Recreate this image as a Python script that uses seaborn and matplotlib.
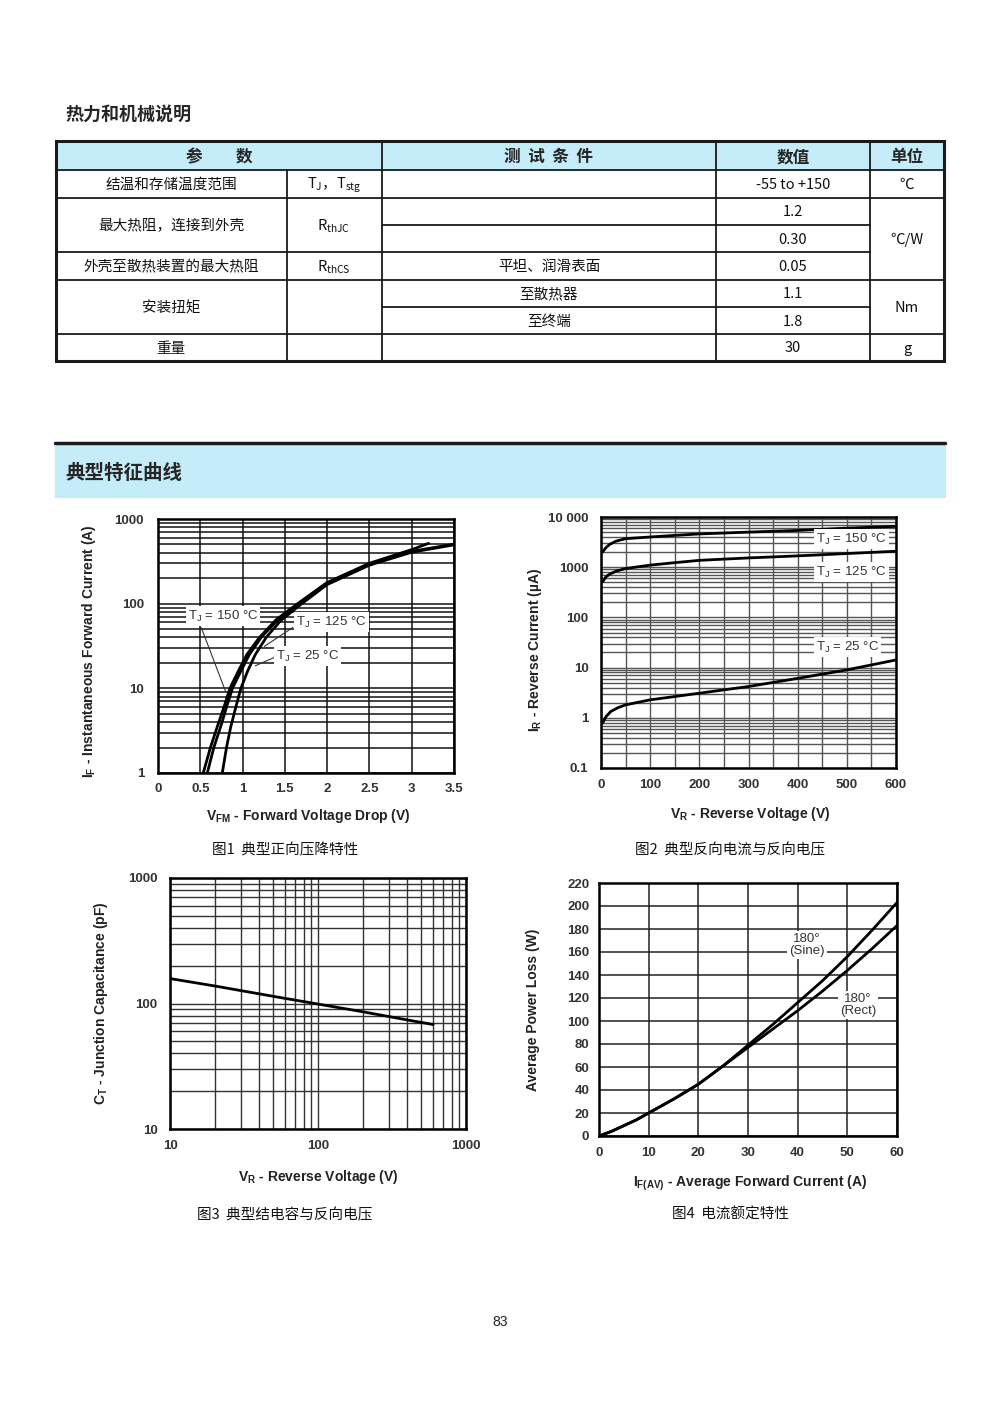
import numpy as np
import pandas as pd
import seaborn as sns
from matplotlib import pyplot as plt
from matplotlib.patches import Rectangle
from matplotlib.ticker import FixedLocator, FixedFormatter, NullFormatter, LogLocator, MultipleLocator

sns.set_theme(style='white')
plt.rcParams['font.family'] = ['Liberation Sans', 'Noto Sans CJK SC', 'DejaVu Sans']
plt.rcParams['mathtext.fontset'] = 'custom'
plt.rcParams['mathtext.rm'] = 'Liberation Sans'
plt.rcParams['mathtext.bf'] = 'Liberation Sans:bold'
plt.rcParams['mathtext.it'] = 'Liberation Sans:italic'
plt.rcParams['mathtext.default'] = 'regular'
CJK = ['Noto Sans CJK SC', 'DejaVu Sans']

# ---- table data ----
tbl_title = '热力和机械说明'
header = ['参　　数', '测  试  条  件', '数值', '单位']
param_names = ['结温和存储温度范围', '最大热阻，连接到外壳', '外壳至散热装置的最大热阻', '安装扭矩', '重量']
symbols = ['T$_J$，T$_{stg}$', 'R$_{thJC}$', 'R$_{thCS}$', '', '']
conditions = ['', '', '', '平坦、润滑表面', '至散热器', '至终端', '']
values = ['-55 to +150', '1.2', '0.30', '0.05', '1.1', '1.8', '30']
units = ['℃', '℃/W', 'Nm', 'g']
section_title = '典型特征曲线'

# ---- fig1: forward voltage drop ----
vf_150 = [0.535, 0.62, 0.70, 0.78, 0.85, 0.95, 1.05, 1.2, 1.4, 1.68, 2.0, 2.5, 3.0, 3.2]
if_150 = [1, 2, 3.5, 6, 10, 16, 25, 40, 65, 105, 178, 300, 435, 516]
vf_125 = [0.583, 0.66, 0.74, 0.81, 0.88, 0.98, 1.08, 1.22, 1.42, 1.7, 2.0, 2.5, 3.0, 3.5]
if_125 = [1, 2, 3.5, 6, 10, 16, 25, 40, 65, 103, 172, 290, 415, 505]
vf_25 = [0.76, 0.81, 0.86, 0.92, 0.98, 1.06, 1.15, 1.28, 1.45, 1.7, 2.0, 2.5, 3.0, 3.5]
if_25 = [1, 2, 3.5, 6, 10, 16, 25, 40, 63, 100, 168, 285, 405, 495]
vf_ticks = [0, 0.5, 1, 1.5, 2, 2.5, 3, 3.5]
vf_labels = ['0', '0.5', '1', '1.5', '2', '2.5', '3', '3.5']

# ---- fig2: reverse current ----
vr_150 = [3, 10, 17, 30, 50, 100, 150, 200, 300, 400, 500, 600]
ir_150 = [2000, 2450, 2820, 3290, 3700, 4000, 4300, 4600, 5000, 5400, 6000, 6500]
vr_125 = [3, 10, 17, 30, 50, 100, 150, 200, 300, 400, 500, 600]
ir_125 = [510, 640, 720, 830, 940, 1100, 1230, 1370, 1530, 1680, 1870, 2080]
vr_25 = [3, 10, 20, 35, 50, 100, 150, 200, 300, 400, 500, 600]
ir_25 = [0.78, 1.05, 1.34, 1.6, 1.81, 2.28, 2.65, 3.09, 4.2, 6.1, 9.0, 14.2]
ir_ticks = [0.1, 1, 10, 100, 1000, 10000]
ir_labels = ['0.1', '1', '10', '100', '1000', '10 000']

# ---- fig3: junction capacitance ----
vr_cap = [10, 20, 50, 100, 200, 400, 600]
c_cap = [158, 138, 114, 99, 86, 74, 68]

# ---- fig4: power loss ----
iav = [0, 2.5, 5, 7.5, 10, 15, 20, 25, 30, 35, 40, 45, 50, 55, 60]
p_sine = [0, 4, 9, 14, 20, 32, 45, 61, 79, 97, 116, 135, 156, 179, 203]
p_rect = [0, 4, 9, 14, 20, 32, 45, 61, 77, 93, 109, 126, 144, 163, 183]

fig = plt.figure(figsize=(10, 14.14), dpi=100)
page = fig.add_axes([0, 0, 1, 1], zorder=-1)
page.set_xlim(0, 1000)
page.set_ylim(1414, 0)
page.axis('off')

blue = '#c4ecf9'
page.text(65, 114, tbl_title, fontsize=13, fontweight='bold', family=CJK, va='center')

# table
xs = [56, 287, 382, 716, 870, 944]
ys = [141, 170, 198, 225, 252, 280, 307, 334, 361]
page.add_patch(Rectangle((xs[0], ys[0]), xs[-1] - xs[0], ys[1] - ys[0], color=blue, zorder=0))
lw = 1.3
for y in [170, 198, 280, 334]:
    page.plot([56, 944], [y, y], color='k', lw=lw)
for y in [225, 307]:
    page.plot([382, 870], [y, y], color='k', lw=lw)
page.plot([56, 870], [252, 252], color='k', lw=lw)
page.plot([287, 287], [170, 361], color='k', lw=lw)
for x in [382, 716, 870]:
    page.plot([x, x], [141, 361], color='k', lw=lw)
page.add_patch(Rectangle((56, 141), 888, 220, fill=False, ec='k', lw=2.2, zorder=3))

hdr_x = [(56 + 382) / 2, (382 + 716) / 2, (716 + 870) / 2, (870 + 944) / 2]
for hx, h in zip(hdr_x, header):
    page.text(hx, 157, h, fontsize=12, fontweight='bold', family=CJK, ha='center', va='center')

row_mid = [(ys[i] + ys[i + 1]) / 2 for i in range(1, len(ys) - 1)]
param_spans = [(0, 1), (1, 3), (3, 4), (4, 6), (6, 7)]
for (a, b), name, sym in zip(param_spans, param_names, symbols):
    yc = (ys[a + 1] + ys[b + 1]) / 2 + 1
    page.text(171, yc, name, fontsize=10.5, family=CJK, ha='center', va='center', color='#111')
    page.text(334, yc, sym, fontsize=10.5, family=CJK, ha='center', va='center', color='#111')
for i, (c, v) in enumerate(zip(conditions, values)):
    page.text(549, row_mid[i] + 1, c, fontsize=10.5, family=CJK, ha='center', va='center', color='#111')
    page.text(793, row_mid[i] + 1, v, fontsize=10.5, family=CJK, ha='center', va='center', color='#111')
unit_spans = [(0, 1), (1, 4), (4, 6), (6, 7)]
for (a, b), u in zip(unit_spans, units):
    page.text(907, (ys[a + 1] + ys[b + 1]) / 2 + 1, u, fontsize=10.5, family=CJK, ha='center', va='center', color='#111')

# section bar
page.plot([55, 945], [443, 443], color='k', lw=2.5)
page.add_patch(Rectangle((55, 445), 890, 52, color=blue, zorder=0))
page.text(65, 473, section_title, fontsize=14, fontweight='bold', family=CJK, va='center')

captions = ['图1  典型正向压降特性', '图2  典型反向电流与反向电压', '图3  典型结电容与反向电压', '图4  电流额定特性']
for (cx, cy), cap in zip([(285, 850), (730, 850), (285, 1215), (730, 1215)], captions):
    page.text(cx, cy, cap, fontsize=10.5, family=CJK, ha='center', va='center', color='#111')
page.text(500, 1322, '83', fontsize=10, ha='center', va='center', color='#222')

lab_kw = dict(fontsize=10, fontweight='bold', color='#222')
lbl_kw = dict(fontsize=9.5, color='#333', bbox=dict(facecolor='white', edgecolor='none', pad=1.5))


def style(ax, gcol, glw=1.0):
    ax.grid(True, which='both', color=gcol, lw=glw)
    ax.tick_params(which='both', length=0)
    for s in ax.spines.values():
        s.set_visible(True)
        s.set_color('black')
        s.set_linewidth(1.8)
    for t in ax.get_xticklabels() + ax.get_yticklabels():
        t.set_fontsize(9.5)
        t.set_fontweight('bold')
        t.set_color('#333')


def curve(ax, x, y):
    sns.lineplot(x=x, y=y, ax=ax, color='black', lw=2.0, sort=False, estimator=None)


# ---- chart 1 ----
ax1 = fig.add_axes([0.158, 1 - 773 / 1414, 0.296, 254 / 1414])
ax1.set_yscale('log')
curve(ax1, vf_150, if_150)
curve(ax1, vf_125, if_125)
curve(ax1, vf_25, if_25)
ax1.set_xlim(0, 3.5)
ax1.set_ylim(1, 1000)
ax1.xaxis.set_major_locator(FixedLocator(vf_ticks))
ax1.xaxis.set_major_formatter(FixedFormatter(vf_labels))
ax1.yaxis.set_major_locator(FixedLocator([1, 10, 100, 1000]))
ax1.yaxis.set_major_formatter(FixedFormatter(['1', '10', '100', '1000']))
ax1.yaxis.set_minor_locator(LogLocator(subs=range(2, 10)))
ax1.yaxis.set_minor_formatter(NullFormatter())
ax1.tick_params(axis='y', pad=10)
ax1.tick_params(axis='x', pad=7)
style(ax1, '#111', 1.1)
ax1.set_xlabel(r'$\mathbf{V_{FM}}$ - Forward Voltage Drop (V)', **lab_kw)
ax1.set_ylabel(r'$\mathbf{I_F}$ - Instantaneous Forward Current (A)', **lab_kw)
ax1.xaxis.set_label_coords(0.507, -0.134)
ax1.yaxis.set_label_coords(-0.202, 0.48)
ax1.annotate('', xy=(0.816, 8.3), xytext=(0.50, 56), arrowprops=dict(arrowstyle='-', lw=0.8, color='#333'))
ax1.annotate('', xy=(1.23, 30), xytext=(1.62, 54.5), arrowprops=dict(arrowstyle='-', lw=0.8, color='#333'))
ax1.annotate('', xy=(1.12, 17.9), xytext=(1.41, 24), arrowprops=dict(arrowstyle='-', lw=0.8, color='#333'))
ax1.text(0.77, 71.5, 'T$_J$ = 150 °C', ha='center', va='center', **lbl_kw)
ax1.text(2.05, 60.7, 'T$_J$ = 125 °C', ha='center', va='center', **lbl_kw)
ax1.text(1.77, 24.1, 'T$_J$ = 25 °C', ha='center', va='center', **lbl_kw)

# ---- chart 2 ----
ax2 = fig.add_axes([0.601, 1 - 768 / 1414, 0.295, 251 / 1414])
ax2.set_yscale('log')
curve(ax2, vr_150, ir_150)
curve(ax2, vr_125, ir_125)
curve(ax2, vr_25, ir_25)
ax2.set_xlim(0, 600)
ax2.set_ylim(0.1, 10000)
ax2.xaxis.set_major_locator(MultipleLocator(100))
ax2.xaxis.set_minor_locator(MultipleLocator(50))
ax2.yaxis.set_major_locator(FixedLocator(ir_ticks))
ax2.yaxis.set_major_formatter(FixedFormatter(ir_labels))
ax2.yaxis.set_minor_locator(LogLocator(subs=range(2, 10)))
ax2.yaxis.set_minor_formatter(NullFormatter())
ax2.tick_params(axis='y', pad=9)
ax2.tick_params(axis='x', pad=8)
style(ax2, '#555', 1.0)
ax2.set_xlabel(r'$\mathbf{V_R}$ - Reverse Voltage (V)', **lab_kw)
ax2.set_ylabel(r'$\mathbf{I_R}$ - Reverse Current (µA)', **lab_kw)
ax2.xaxis.set_label_coords(0.505, -0.147)
ax2.yaxis.set_label_coords(-0.193, 0.47)
ax2.text(438, 3650, 'T$_J$ = 150 °C', ha='left', va='center', **lbl_kw)
ax2.text(438, 802, 'T$_J$ = 125 °C', ha='left', va='center', **lbl_kw)
ax2.text(438, 25.7, 'T$_J$ = 25 °C', ha='left', va='center', **lbl_kw)

# ---- chart 3 ----
ax3 = fig.add_axes([0.170, 1 - 1129 / 1414, 0.296, 251 / 1414])
ax3.set_xscale('log')
ax3.set_yscale('log')
curve(ax3, vr_cap, c_cap)
ax3.set_xlim(10, 1000)
ax3.set_ylim(10, 1000)
for axis in [ax3.xaxis, ax3.yaxis]:
    axis.set_major_locator(FixedLocator([10, 100, 1000]))
    axis.set_major_formatter(FixedFormatter(['10', '100', '1000']))
    axis.set_minor_locator(LogLocator(subs=range(2, 10)))
    axis.set_minor_formatter(NullFormatter())
ax3.tick_params(axis='y', pad=9)
ax3.tick_params(axis='x', pad=8)
style(ax3, '#333', 1.0)
ax3.set_xlabel(r'$\mathbf{V_R}$ - Reverse Voltage (V)', **lab_kw)
ax3.set_ylabel(r'$\mathbf{C_T}$ - Junction Capacitance (pF)', **lab_kw)
ax3.xaxis.set_label_coords(0.5, -0.155)
ax3.yaxis.set_label_coords(-0.202, 0.5)

# ---- chart 4 ----
ax4 = fig.add_axes([0.599, 1 - 1136 / 1414, 0.298, 253 / 1414])
curve(ax4, iav, p_sine)
curve(ax4, iav, p_rect)
ax4.set_xlim(0, 60)
ax4.set_ylim(0, 220)
ax4.xaxis.set_major_locator(MultipleLocator(10))
ax4.yaxis.set_major_locator(MultipleLocator(20))
ax4.tick_params(axis='y', pad=7)
ax4.tick_params(axis='x', pad=8)
style(ax4, '#222', 1.1)
ax4.set_xlabel(r'$\mathbf{I_{F(AV)}}$ - Average Forward Current (A)', **lab_kw)
ax4.set_ylabel('Average Power Loss (W)', **lab_kw)
ax4.xaxis.set_label_coords(0.507, -0.15)
ax4.yaxis.set_label_coords(-0.198, 0.5)
ax4.text(41.9, 166, '180°\n(Sine)', ha='center', va='center', linespacing=0.95, **lbl_kw)
ax4.text(52.1, 114, '180°\n(Rect)', ha='center', va='center', linespacing=0.95, **lbl_kw)

fig.savefig('out.png', dpi=100)
